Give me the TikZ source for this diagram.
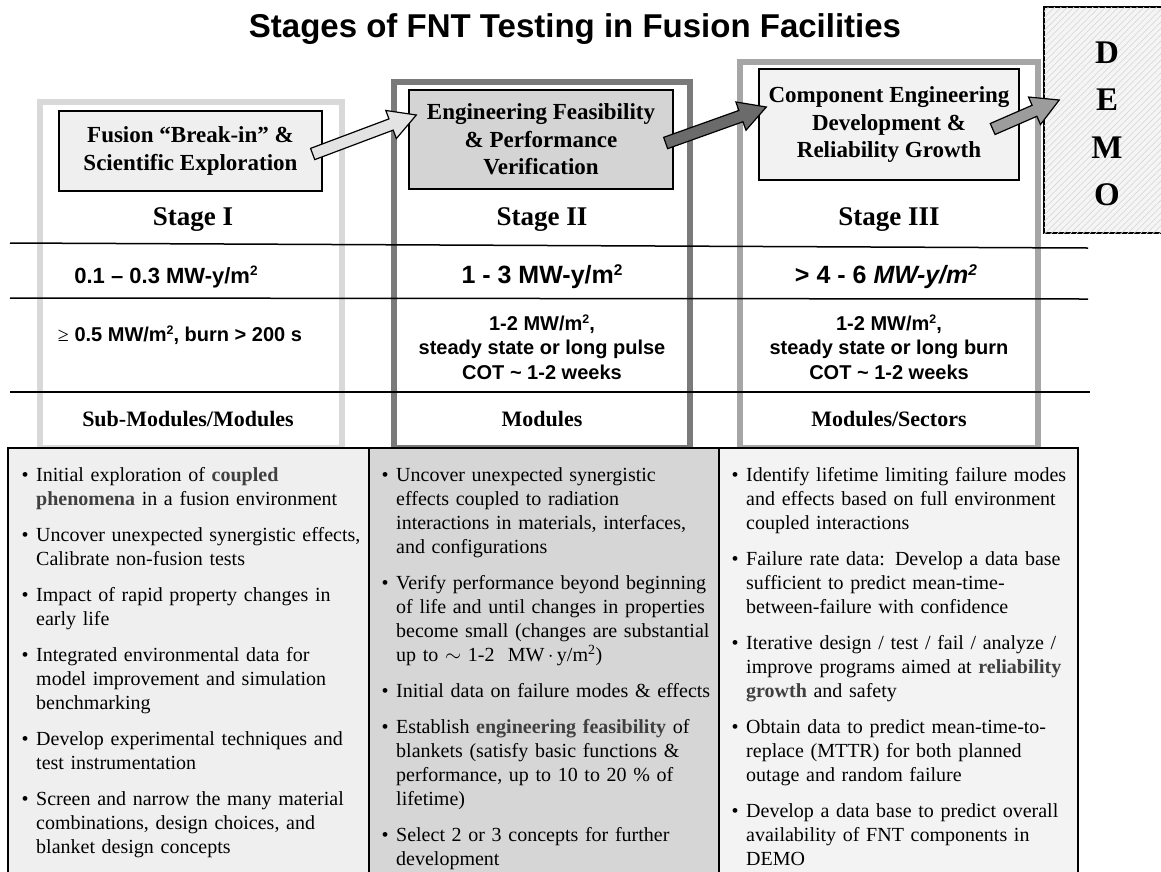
\documentclass[tikz,border=0pt]{standalone}
\usepackage{fontspec}
\setmainfont{Liberation Serif}
\setsansfont{Liberation Sans}
\usetikzlibrary{calc,patterns.meta}

\definecolor{stageone}{HTML}{D9D9D9}
\definecolor{stagetwo}{HTML}{7A7A7A}
\definecolor{stagethree}{HTML}{A6A6A6}
\definecolor{boxone}{HTML}{EFEFEF}
\definecolor{boxtwo}{HTML}{D4D4D4}
\definecolor{boxthree}{HTML}{F2F2F2}
\definecolor{colone}{HTML}{EFEFEF}
\definecolor{coltwo}{HTML}{D6D6D6}
\definecolor{colthree}{HTML}{F3F3F3}
\definecolor{hlgray}{HTML}{404040}

\newcommand{\bitem}[1]{\par\hangindent=14.5pt\hangafter=1\noindent\makebox[14.5pt][l]{\textbullet}\strut#1\par}
\newcommand{\hl}[1]{\textbf{\textcolor{hlgray}{#1}}}
\newcommand{\sq}{\raisebox{0.32em}{\scalebox{0.62}{2}}}
\newcommand{\blockarrow}[3]{%
	\draw[line width=1.2pt, line join=miter, fill=#3]
		let \p1=($(#2)-(#1)$), \n1={atan2(\y1,\x1)}, \n2={veclen(\x1,\y1)} in
		[shift={(#1)}, rotate=\n1]
		(0pt,-6pt) -- (\n2-27pt,-6pt) -- (\n2-27pt,-15pt) -- (\n2,0pt)
		-- (\n2-27pt,15pt) -- (\n2-27pt,6pt) -- (0pt,6pt) -- cycle;}

\tikzset{
	stagebox/.style={line width=5.5pt},
	goalbox/.style={draw, line width=1.3pt, inner sep=0pt, align=center,
		font=\bfseries\fontsize{23}{27.5}\selectfont},
	stagelabel/.style={anchor=base, font=\bfseries\fontsize{27}{32}\selectfont},
	fluence/.style={anchor=base, font=\sffamily\bfseries\fontsize{25}{30}\selectfont},
	loadtext/.style={inner sep=0pt, align=center, font=\sffamily\bfseries\fontsize{20}{24.5}\selectfont},
	sizelabel/.style={anchor=base, font=\bfseries\fontsize{22}{26}\selectfont},
	rowline/.style={line width=1.5pt},
	tablecell/.style={draw=black, line width=2.5pt},
	bullets/.style={anchor=north west, inner sep=0pt, align=left, text width=400pt,
		font=\fontsize{20}{24}\selectfont},
	demobox/.style={draw, line width=1.5pt, fill=black!4,
		postaction={pattern={Lines[angle=45,distance=4.5pt,line width=0.7pt]}, pattern color=black!15}}
}

\begin{document}
\begin{tikzpicture}[x=1pt,y=-1pt]
	\useasboundingbox (0,0) rectangle (1161,871);
	\clip (0,0) rectangle (1161,871);
	\fill[white] (0,0) rectangle (1161,871);

	\node[anchor=base, font=\sffamily\bfseries\fontsize{33}{39}\selectfont] (title) at (575,37) {Stages of FNT Testing in Fusion Facilities};

	\draw[stagebox, draw=stageone] (40,102) rectangle (342,448);
	\draw[stagebox, draw=stagetwo] (394,82) rectangle (690,448);
	\draw[stagebox, draw=stagethree] (740,62) rectangle (1038,448);

	\node[demobox, minimum width=130pt, minimum height=226pt] (demo) at (1109,120) {};
	\node[align=center, font=\bfseries\fontsize{33}{47.3}\selectfont] (demolabel) at (1107,124) {D\\E\\M\\O};

	\node[goalbox, fill=boxone, minimum width=263pt, minimum height=80pt] (fusion) at (190.5,151) {Fusion “Break-in” \&\\Scientific Exploration};
	\node[goalbox, fill=boxtwo, minimum width=264pt, minimum height=99pt] (feas) at (541,139.5) {Engineering Feasibility\\\& Performance\\Verification};
	\node[goalbox, fill=boxthree, minimum width=260pt, minimum height=111pt] (comp) at (889,124.5) {Component Engineering\\Development \&\\Reliability Growth};

	\node[stagelabel] (s1) at (193,225) {Stage I};
	\node[stagelabel] (s2) at (542,225) {Stage II};
	\node[stagelabel] (s3) at (889,225) {Stage III};

	\draw[rowline] (10,243) -- (1088,248);
	\draw[rowline] (10,298) -- (1088,299);
	\draw[rowline] (10,392) -- (1090,392);

	\node[fluence, font=\sffamily\bfseries\fontsize{22}{26}\selectfont] (f1) at (166,283) {0.1 – 0.3 MW-y/m\sq};
	\node[fluence] (f2) at (542,283) {1 - 3 MW-y/m\sq};
	\node[fluence] (f3) at (886,283) {> 4 - 6 \textit{MW-y/m\sq}};

	\node[loadtext, anchor=base] (w1) at (180,341) {{\rmfamily\mdseries ≥} 0.5 MW/m\sq, burn > 200 s};
	\node[loadtext, anchor=north] (w2) at (542,312.9) {\strut 1-2 MW/m\sq,\\steady state or long pulse\\COT \textasciitilde{} 1-2 weeks};
	\node[loadtext, anchor=north] (w3) at (889,312.9) {\strut 1-2 MW/m\sq,\\steady state or long burn\\COT \textasciitilde{} 1-2 weeks};

	\node[sizelabel] (m1) at (188,426) {Sub-Modules/Modules};
	\node[sizelabel] (m2) at (542,426) {Modules};
	\node[sizelabel] (m3) at (889,426) {Modules/Sectors};

	\draw[tablecell, fill=colone] (8,448) rectangle (369,890);
	\draw[tablecell, fill=coltwo] (369,448) rectangle (719,890);
	\draw[tablecell, fill=colthree] (719,448) rectangle (1078,890);

	\node[bullets] (list1) at (21.5,457.7) {%
		\bitem{Initial exploration of \hl{coupled}\newline\hl{phenomena} in a fusion environment}\vspace{12pt}
		\bitem{Uncover unexpected synergistic effects,\newline Calibrate non-fusion tests}\vspace{12pt}
		\bitem{Impact of rapid property changes in\newline early life}\vspace{12pt}
		\bitem{Integrated environmental data for\newline model improvement and simulation\newline benchmarking}\vspace{12pt}
		\bitem{Develop experimental techniques and\newline test instrumentation}\vspace{12pt}
		\bitem{Screen and narrow the many material\newline combinations, design choices, and\newline blanket design concepts}};
	\node[bullets] (list2) at (381.5,457.7) {%
		\bitem{Uncover unexpected synergistic\newline effects coupled to radiation\newline interactions in materials, interfaces,\newline and configurations}\vspace{12pt}
		\bitem{Verify performance beyond beginning\newline of life and until changes in properties\newline become small (changes are substantial\newline up to $\sim$ 1-2~~MW\,$\cdot$\,y/m\textsuperscript{2})}\vspace{12pt}
		\bitem{Initial data on failure modes \& effects}\vspace{12pt}
		\bitem{Establish \hl{engineering feasibility} of\newline blankets (satisfy basic functions \&\newline performance, up to 10 to 20 \% of\newline lifetime)}\vspace{12pt}
		\bitem{Select 2 or 3 concepts for further\newline development}};
	\node[bullets] (list3) at (731.5,457.7) {%
		\bitem{Identify lifetime limiting failure modes\newline and effects based on full environment\newline coupled interactions}\vspace{12pt}
		\bitem{Failure rate data: Develop a data base\newline sufficient to predict mean-time-\newline between-failure with confidence}\vspace{12pt}
		\bitem{Iterative design / test / fail / analyze /\newline improve programs aimed at \hl{reliability}\newline\hl{growth} and safety}\vspace{12pt}
		\bitem{Obtain data to predict mean-time-to-\newline replace (MTTR) for both planned\newline outage and random failure}\vspace{12pt}
		\bitem{Develop a data base to predict overall\newline availability of FNT components in\newline DEMO}};

	\coordinate (a1s) at ($(fusion.east)+(-10,3)$);
	\coordinate (a1e) at ($(feas.west)+(8,-24.5)$);
	\coordinate (a2s) at ($(feas.east)+(-8,3.5)$);
	\coordinate (a2e) at ($(comp.west)+(8,-17.5)$);
	\coordinate (a3s) at ($(comp.east)+(-27,4.5)$);
	\coordinate (a3e) at ($(demo.west)+(16,-20)$);
	\blockarrow{a1s}{a1e}{black!11}
	\blockarrow{a2s}{a2e}{black!58}
	\blockarrow{a3s}{a3e}{black!39}
\end{tikzpicture}
\end{document}
